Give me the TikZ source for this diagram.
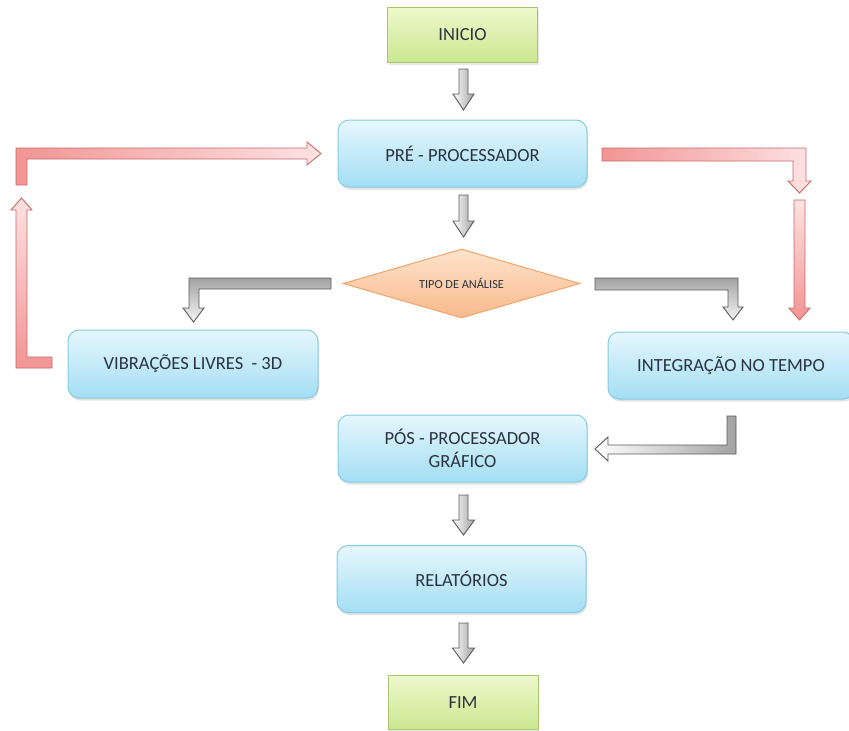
\documentclass[tikz,border=0pt]{standalone}
\usepackage{fontspec}
\setmainfont{Carlito}
\usetikzlibrary{shapes.geometric,shadows}

\definecolor{txt}{HTML}{2B3340}
\definecolor{bluetop}{HTML}{E6F7FD}
\definecolor{bluebot}{HTML}{A3DEF3}
\definecolor{blueline}{HTML}{86CBE2}
\definecolor{greentop}{HTML}{EEF8CC}
\definecolor{greenbot}{HTML}{CBE790}
\definecolor{greenline}{HTML}{A9C66E}
\definecolor{orangetop}{HTML}{FDE3CC}
\definecolor{orangebot}{HTML}{F9B98C}
\definecolor{orangeline}{HTML}{EFA56C}
\definecolor{grayline}{HTML}{5A5A5A}
\definecolor{graydark}{HTML}{A2A2A2}
\definecolor{redline}{HTML}{C86A6A}
\definecolor{reddark}{HTML}{F29494}
\definecolor{redlight}{HTML}{FDE2E2}

\tikzset{
  boxtext/.style={text=txt, font=\fontsize{18.5}{23}\selectfont, align=center},
  stepbox/.style={boxtext, draw=blueline, line width=1pt, rounded corners=11pt,
    top color=bluetop, bottom color=bluebot, inner sep=0pt,
    drop shadow={opacity=0.22, shadow xshift=1pt, shadow yshift=-2.5pt}},
  termbox/.style={boxtext, draw=greenline, line width=1pt,
    top color=greentop, bottom color=greenbot, inner sep=0pt,
    drop shadow={opacity=0.18, shadow xshift=1pt, shadow yshift=-2pt}},
  decbox/.style={shape=diamond, aspect=3.4, draw=orangeline, line width=1pt, text=txt,
    top color=orangetop, bottom color=orangebot, inner sep=0pt,
    font=\fontsize{12.3}{14}\selectfont},
  grayblock/.style={draw=grayline, line width=0.9pt, line join=miter,
    left color=white, right color=graydark},
  grayblockh/.style={draw=grayline, line width=0.9pt, line join=miter,
    top color=graydark, bottom color=white!92!gray},
  redblock/.style={draw=redline, line width=0.9pt, line join=miter,
    left color=reddark, right color=redlight},
  redblockv/.style={draw=redline, line width=0.9pt, line join=miter,
    top color=redlight, bottom color=reddark},
}

% straight downward block arrow: style, centre x, top y, head base y, tip y, shaft half width, head half width
\newcommand\blockdown[7]{%
  \path[#1] ({#2-#6},#3) -- ({#2+#6},#3) -- ({#2+#6},#4) -- ({#2+#7},#4)
    -- (#2,#5) -- ({#2-#7},#4) -- ({#2-#6},#4) -- cycle;}

\begin{document}
\begin{tikzpicture}[x=1pt,y=-1pt]
\useasboundingbox (0,0) rectangle (849,731);

% process nodes
\node[termbox, minimum width=150pt, minimum height=55pt] (inicio) at (462.5,35) {INICIO};
\node[stepbox, minimum width=249pt, minimum height=67pt] (pre) at (462.5,153.5) {PRÉ - PROCESSADOR};
\node[decbox, minimum width=237pt, minimum height=69pt] (tipo) at (461.5,283.5) {TIPO DE ANÁLISE};
\node[stepbox, minimum width=250pt, minimum height=68pt] (vib) at (193,364) {VIBRAÇÕES LIVRES\ \ - 3D};
\node[stepbox, minimum width=246pt, minimum height=67pt] (integ) at (731,365.5) {INTEGRAÇÃO NO TEMPO};
\node[stepbox, minimum width=249pt, minimum height=67pt] (pos) at (462.5,448.5) {PÓS - PROCESSADOR\\GRÁFICO};
\node[stepbox, minimum width=249pt, minimum height=67pt] (rel) at (461.5,579) {RELATÓRIOS};
\node[termbox, minimum width=150pt, minimum height=54pt] (fim) at (463,702.5) {FIM};

% grey block arrows along the main flow
\blockdown{grayblock}{463.5}{69}{94}{110}{4.5}{10.5}
\blockdown{grayblock}{463.5}{195}{221}{237}{4.5}{10.5}
\blockdown{grayblock}{463.5}{495}{520}{535}{4.5}{11}
\blockdown{grayblock}{463.5}{623}{648}{663}{4.5}{11}

% grey bent arrow from the decision to the free vibration branch
\path[grayblockh] (331,278) -- (189,278) -- (189,308) -- (183,308) -- (193.5,322)
  -- (204,308) -- (199,308) -- (199,289) -- (331,289) -- cycle;
% grey bent arrow from the decision to the time integration branch
\path[grayblockh] (595,278) -- (738,278) -- (738,307) -- (743,307) -- (733,320)
  -- (723,307) -- (728,307) -- (728,290) -- (595,290) -- cycle;
% grey bent arrow from time integration to the post-processor
\path[grayblock] (727,416) -- (736,416) -- (736,454) -- (608,454) -- (608,461)
  -- (595,449) -- (608,437) -- (608,445) -- (727,445) -- cycle;

% red return loop from free vibrations back to the pre-processor
\path[redblockv] (52,357) -- (27,357) -- (27,210) -- (32,210) -- (21.5,198)
  -- (11,210) -- (16,210) -- (16,368) -- (52,368) -- cycle;
\path[redblock] (16,185) -- (16,148) -- (307,148) -- (307,142) -- (321,153.5)
  -- (307,165) -- (307,159) -- (27,159) -- (27,185) -- cycle;

% red path from the pre-processor to time integration
\path[redblock] (602,148) -- (806,148) -- (806,181) -- (811,181) -- (799.5,193)
  -- (788,181) -- (793,181) -- (793,161) -- (602,161) -- cycle;
\blockdown{redblockv}{799.5}{200}{308}{320}{5.5}{10.5}
\end{tikzpicture}
\end{document}
